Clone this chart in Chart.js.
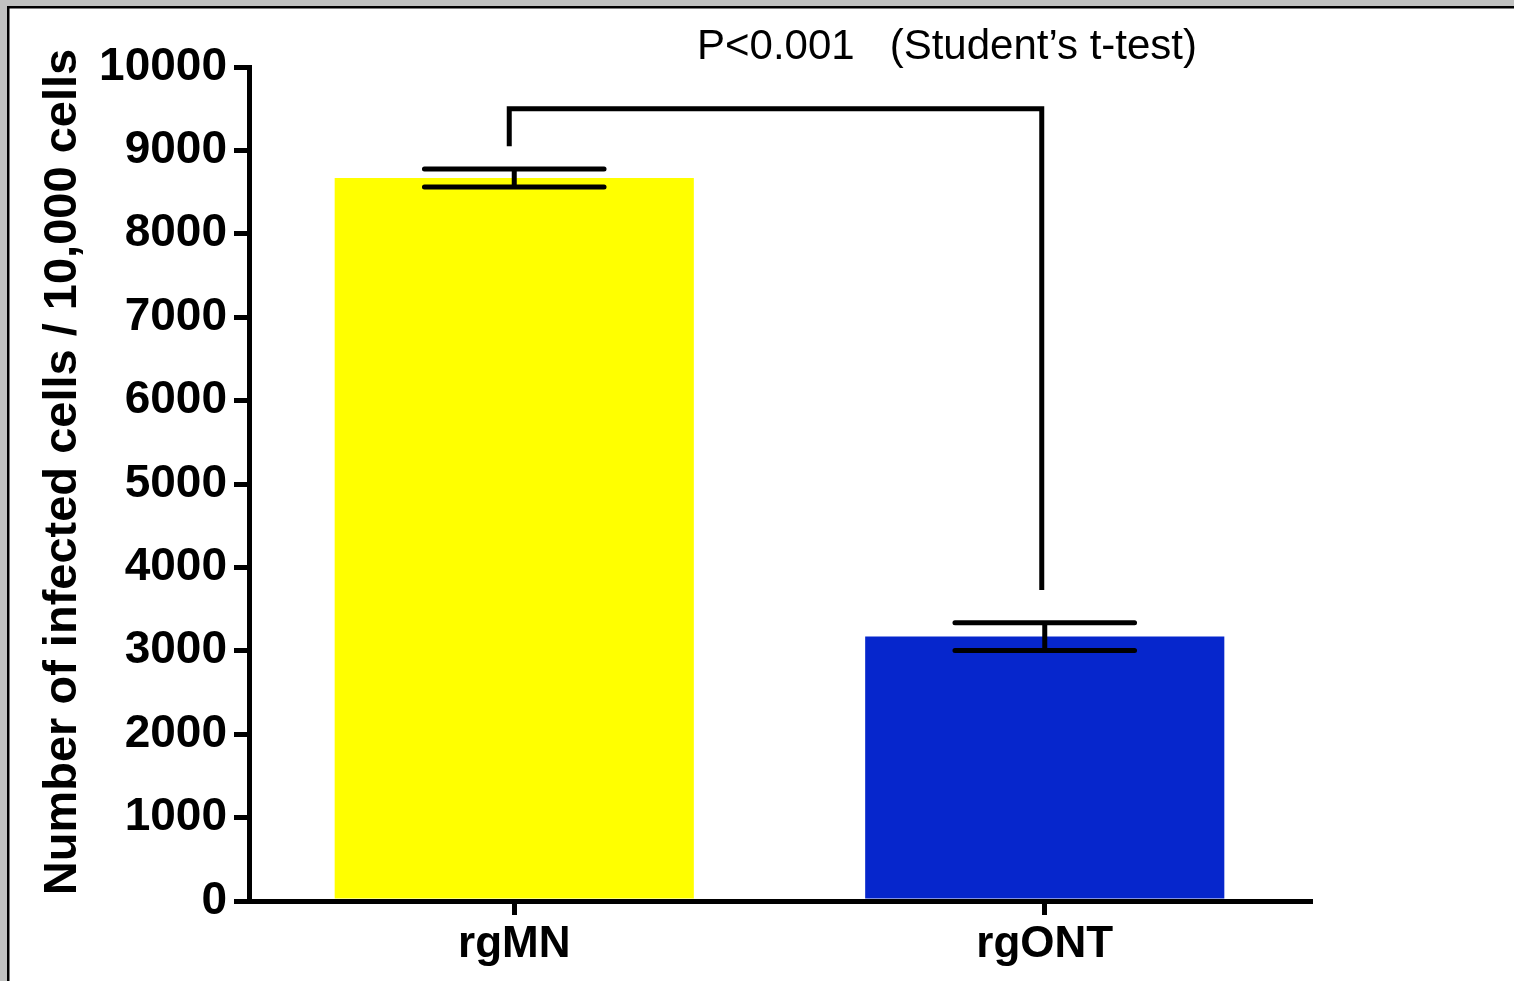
<!DOCTYPE html>
<html lang="en">
<head>
  <meta charset="UTF-8">
  <title>Infected cells</title>
  <style>
    body {
      margin: 0;
      background: #fff;
    }
    #wrap {
      width: 1514px;
      height: 981px;
    }
  </style>
</head>
<body>
  <div id="wrap"><canvas id="chart" width="1514" height="981"></canvas></div>

  <script src="https://cdn.jsdelivr.net/npm/chart.js"></script>
  <script>
    // Infected cells per 10,000 cells, mean and SEM
    const categories = ['rgMN', 'rgONT'];
    const infectedCells = [8670, 3170];
    const semValues = [108, 165];
    const barColors = ['#ffff00', '#0626cc'];

    // y axis range
    const yMin = 0;
    const yMax = 10000;
    const yStep = 1000;

    // significance bracket (y values) and its note
    const bracketTop = 9500;
    const bracketLegEnds = [9050, 3730];
    const pNote = 'P<0.001   (Student\u2019s t-test)';
    const yTitle = 'Number of infected cells / 10,000 cells';

    const FONT = "'Liberation Sans', Arial, sans-serif";
    const LINE = 5;

    // gray window frame behind everything
    const framePlugin = {
      id: 'frame',
      beforeDraw(chart) {
        const ctx = chart.ctx;
        ctx.save();
        ctx.fillStyle = '#fff';
        ctx.fillRect(0, 0, chart.width, chart.height);
        ctx.fillStyle = '#c0c1c0';
        ctx.fillRect(0, 0, chart.width, 6);
        ctx.fillRect(0, 0, 7, chart.height);
        ctx.fillStyle = '#000';
        ctx.fillRect(7, 6, chart.width - 7, 2.5);
        ctx.fillRect(7, 6, 2.5, chart.height - 6);
        ctx.restore();
      }
    };

    // error bars, bracket, p-value note and y title
    const extrasPlugin = {
      id: 'extras',
      afterDatasetsDraw(chart) {
        const ctx = chart.ctx;
        const x = chart.scales.x;
        const y = chart.scales.y;
        const meta = chart.getDatasetMeta(0);

        ctx.save();
        ctx.strokeStyle = '#000';
        ctx.lineWidth = LINE;
        ctx.lineCap = 'round';

        meta.data.forEach((bar, i) => {
          const cx = bar.x;
          const half = bar.width / 4;
          const hi = y.getPixelForValue(infectedCells[i] + semValues[i]);
          const lo = y.getPixelForValue(infectedCells[i] - semValues[i]);
          ctx.beginPath();
          ctx.moveTo(cx - half, hi);
          ctx.lineTo(cx + half, hi);
          ctx.moveTo(cx - half, lo);
          ctx.lineTo(cx + half, lo);
          ctx.moveTo(cx, hi);
          ctx.lineTo(cx, lo);
          ctx.stroke();
        });

        // bracket between the two groups
        const x1 = x.getPixelForValue(0) - 5;
        const x2 = x.getPixelForValue(1) - 3;
        const top = y.getPixelForValue(bracketTop);
        ctx.lineCap = 'butt';
        ctx.lineJoin = 'miter';
        ctx.beginPath();
        ctx.moveTo(x1, y.getPixelForValue(bracketLegEnds[0]));
        ctx.lineTo(x1, top);
        ctx.lineTo(x2, top);
        ctx.lineTo(x2, y.getPixelForValue(bracketLegEnds[1]));
        ctx.stroke();

        ctx.fillStyle = '#000';
        ctx.font = '42px ' + FONT;
        ctx.textAlign = 'left';
        ctx.textBaseline = 'middle';
        ctx.fillText(pNote, 697, 47);

        // rotated y axis title
        ctx.translate(63, 472);
        ctx.rotate(-Math.PI / 2);
        ctx.font = 'bold 47px ' + FONT;
        ctx.textAlign = 'center';
        ctx.fillText(yTitle, 0, 0);
        ctx.restore();
      }
    };

    new Chart(document.getElementById('chart'), {
      type: 'bar',
      data: {
        labels: categories,
        datasets: [{
          data: infectedCells,
          backgroundColor: barColors,
          borderWidth: 0,
          categoryPercentage: 1,
          barPercentage: 0.677
        }]
      },
      options: {
        responsive: false,
        animation: false,
        layout: {
          padding: { top: 67, right: 204, left: 0, bottom: 0 }
        },
        plugins: {
          legend: { display: false },
          tooltip: { enabled: false }
        },
        scales: {
          x: {
            afterFit(scale) { scale.height = 80; },
            border: { display: true, color: '#000', width: LINE },
            grid: {
              offset: false,
              drawOnChartArea: false,
              color: '#000',
              lineWidth: LINE,
              tickLength: 14
            },
            ticks: {
              color: '#000',
              padding: 3,
              font: { family: FONT, size: 44, weight: 'bold' }
            }
          },
          y: {
            min: yMin,
            max: yMax,
            afterFit(scale) { scale.width = 249; },
            border: { display: true, color: '#000', width: LINE },
            grid: {
              drawOnChartArea: false,
              color: '#000',
              lineWidth: LINE,
              tickLength: 15
            },
            ticks: {
              stepSize: yStep,
              color: '#000',
              padding: 7,
              callback: (v) => String(v),
              font: { family: FONT, size: 46, weight: 'bold' }
            }
          }
        }
      },
      plugins: [framePlugin, extrasPlugin]
    });
  </script>
</body>
</html>
